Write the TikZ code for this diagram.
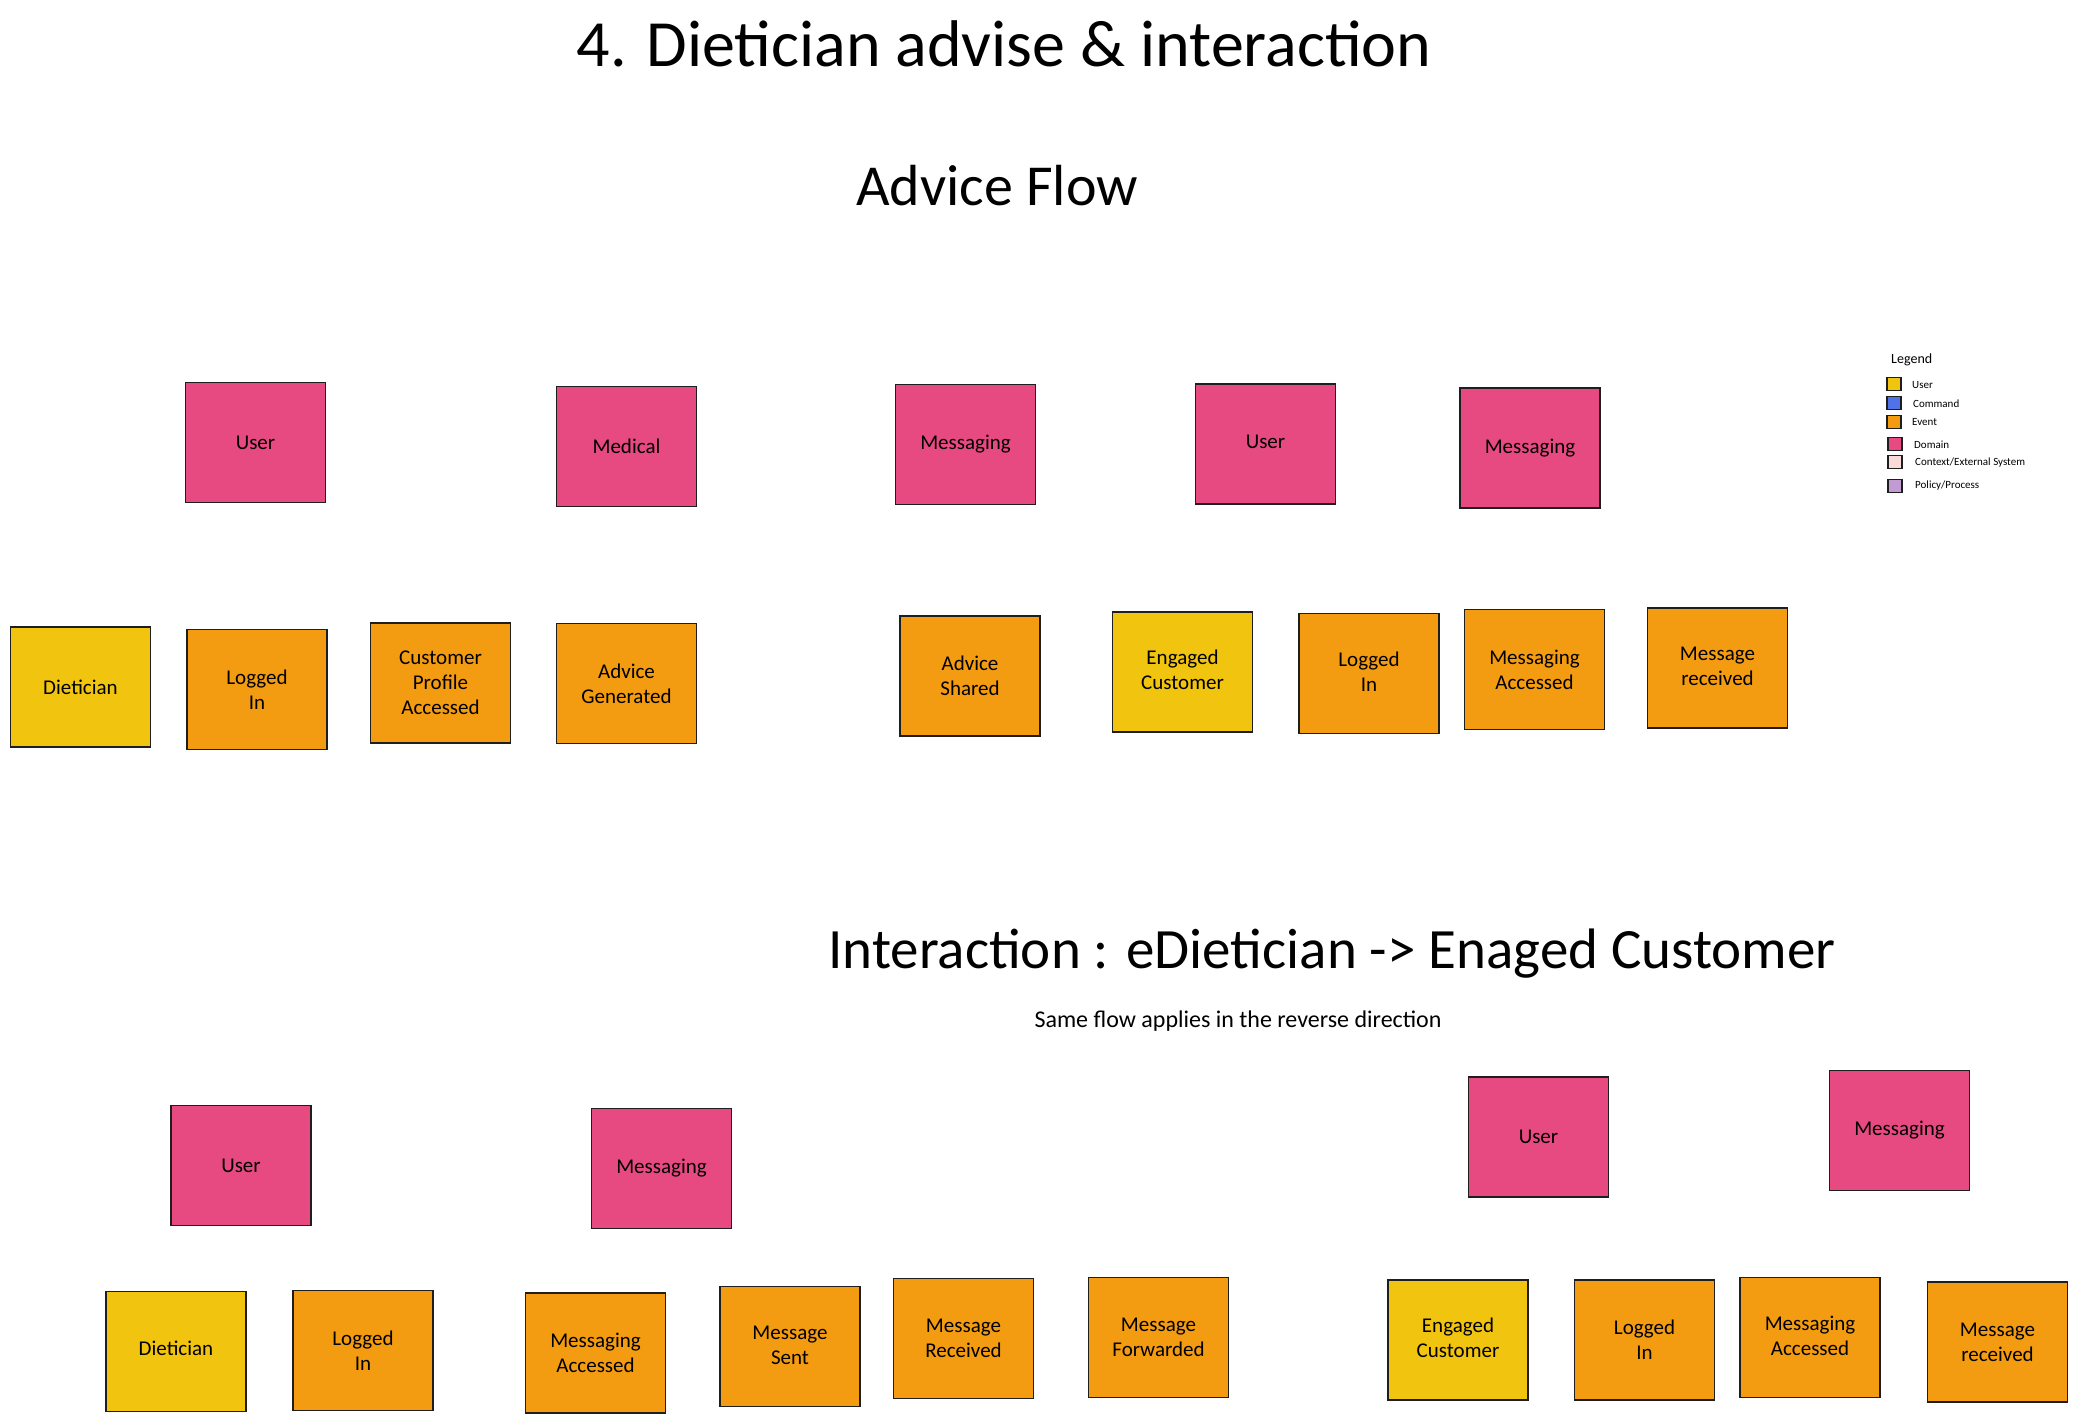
\documentclass[tikz,border=0pt]{standalone}
\usepackage{fontspec}
\setmainfont{Carlito}
\definecolor{dompink}{HTML}{E64A80}
\definecolor{evtorange}{HTML}{F39C12}
\definecolor{usryellow}{HTML}{F1C40F}
\definecolor{cmdblue}{HTML}{4F72E8}
\definecolor{ctxpink}{HTML}{FAD9D9}
\definecolor{polpurple}{HTML}{C39BD3}
\definecolor{inkc}{HTML}{1E1E1E}
\newcommand{\liftlines}[2]{\raisebox{#1}{\begin{tabular}{@{}c@{}}#2\end{tabular}}}
\tikzset{
  sticky/.style={draw=inkc, line width=1.4pt, minimum width=140pt, minimum height=120pt,
    inner sep=4pt, align=center, font=\fontsize{21}{25}\selectfont, text=black},
  dombox/.style={sticky, fill=dompink},
  evtbox/.style={sticky, fill=evtorange},
  actbox/.style={sticky, fill=usryellow},
  heading/.style={font=\fontsize{66}{76}\selectfont, text=black},
  flowhead/.style={font=\fontsize{58}{68}\selectfont, text=black},
  subheading/.style={font=\fontsize{57}{66}\selectfont, text=black},
  notetext/.style={font=\fontsize{24}{28}\selectfont, text=black},
  legsq/.style={draw=inkc, line width=1.2pt, minimum width=14pt, minimum height=13pt, inner sep=0pt},
  legtxt/.style={font=\fontsize{11}{13}\selectfont, anchor=west, text=black, inner sep=0pt}
}
\begin{document}
\begin{tikzpicture}[x=1pt,y=-1pt]
\useasboundingbox (0,0) rectangle (2078,1423);
\fill[white] (0,0) rectangle (2078,1423);

% titles
\node[heading] (title) at (1004,44) {4. Dietician advise \& interaction};
\node[flowhead] (advflow) at (997,186) {Advice Flow};
\node[subheading] (inter) at (1332,954) {Interaction : eDietician -> Enaged Customer};
\node[notetext] (same) at (1238,1021) {Same flow applies in the reverse direction};

% Advice flow: domains
\node[dombox] (dU1) at (255.5,442.5) {User};
\node[dombox] (dMed) at (626.5,446.5) {\raisebox{-14pt}{Medical}};
\node[dombox] (dMsg1) at (965.5,444.5) {Messaging};
\node[dombox] (dU2) at (1265.5,444) {\raisebox{4pt}{User}};
\node[dombox] (dMsg2) at (1530,448) {Messaging};

% Advice flow: actors and events
\node[actbox] (a1) at (80.5,687) {Dietician};
\node[evtbox] (e1) at (257,689.5) {Logged\\In};
\node[evtbox] (e2) at (440.5,683) {Customer\\Profile\\Accessed};
\node[evtbox] (e3) at (626.5,683.5) {Advice\\Generated};
\node[evtbox] (e4) at (970,676) {Advice\\Shared};
\node[actbox] (a2) at (1182.5,672) {\liftlines{12pt}{Engaged\\Customer}};
\node[evtbox] (e5) at (1369,673.5) {\liftlines{10pt}{Logged\\In}};
\node[evtbox] (e6) at (1534.5,669.5) {Messaging\\Accessed};
\node[evtbox] (e7) at (1717.5,668) {\liftlines{6pt}{Message\\received}};

% Interaction: domains
\node[dombox] (dU3) at (241,1165.5) {User};
\node[dombox] (dMsg3) at (661.5,1168.5) {Messaging};
\node[dombox] (dU4) at (1538.5,1137) {User};
\node[dombox] (dMsg4) at (1899.5,1130.5) {Messaging};

% Interaction: actors and events
\node[actbox] (a3) at (176,1351.5) {\raisebox{6pt}{Dietician}};
\node[evtbox] (e8) at (363,1350.5) {Logged\\In};
\node[evtbox] (e9) at (595.5,1353) {Messaging\\Accessed};
\node[evtbox] (e10) at (790,1346.5) {\liftlines{6pt}{Message\\Sent}};
\node[evtbox] (e11) at (963.5,1338.5) {Message\\Received};
\node[evtbox] (e12) at (1158.5,1337.5) {Message\\Forwarded};
\node[actbox] (a4) at (1458,1340) {\liftlines{10pt}{Engaged\\Customer}};
\node[evtbox] (e13) at (1644.5,1340) {Logged\\In};
\node[evtbox] (e14) at (1810,1337.5) {\liftlines{8pt}{Messaging\\Accessed}};
\node[evtbox] (e15) at (1997.5,1342) {Message\\received};

% Legend
\node[font=\fontsize{14}{16}\selectfont, anchor=west, inner sep=0pt] (legend) at (1891,360) {Legend};
\node[legsq, fill=usryellow] (lUser) at (1894,384) {};
\node[legsq, fill=cmdblue] (lCmd) at (1894,403) {};
\node[legsq, fill=evtorange] (lEvt) at (1894,422) {};
\node[legsq, fill=dompink] (lDom) at (1895,444) {};
\node[legsq, fill=ctxpink] (lCtx) at (1895,462) {};
\node[legsq, fill=polpurple] (lPol) at (1895,486) {};
\node[legtxt] (tUser) at (1912,385) {User};
\node[legtxt] (tCmd) at (1913,404) {Command};
\node[legtxt] (tEvt) at (1912,422) {Event};
\node[legtxt] (tDom) at (1914,445) {Domain};
\node[legtxt] (tCtx) at (1915,463) {Context/External System};
\node[legtxt] (tPol) at (1915,486) {Policy/Process};
\end{tikzpicture}
\end{document}
